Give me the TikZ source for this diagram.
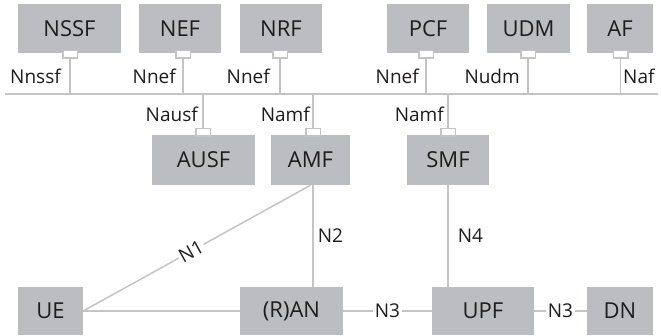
\documentclass[tikz,border=0pt]{standalone}
\usepackage{fontspec}
\setmainfont{Open Sans}
\usepackage{tikz}
\usetikzlibrary{positioning, calc}
\definecolor{boxgray}{HTML}{BCBDC1}
\definecolor{linegray}{HTML}{C4C4C4}
\definecolor{textdark}{HTML}{1E1C1D}

\begin{document}
\begin{tikzpicture}[x=1pt, y=-1pt,
        nf/.style={rectangle, fill=boxgray, text=textdark, font=\fontsize{22}{24}\selectfont, inner sep=0pt},
        port/.style={rectangle, draw=linegray, fill=white, line width=1.5pt, minimum width=14.5pt, minimum height=7.5pt, inner sep=0pt},
        lnk/.style={draw=linegray, line width=1.5pt},
        iface/.style={text=textdark, font=\fontsize{19}{21}\selectfont, inner sep=0pt, fill=white}]
    \useasboundingbox (0,0) rectangle (661,336);
    % upper row
    \node[nf, minimum width=103pt, minimum height=49pt] (nssf) at (69.5, 28.5) {NSSF};
    \node[nf, minimum width=82pt, minimum height=49pt] (nef) at (180, 28.5) {NEF};
    \node[nf, minimum width=82pt, minimum height=49pt] (nrf) at (281, 28.5) {NRF};
    \node[nf, minimum width=82pt, minimum height=49pt] (pcf) at (428, 28.5) {PCF};
    \node[nf, minimum width=83pt, minimum height=49pt] (udm) at (528.5, 28.5) {UDM};
    \node[nf, minimum width=66pt, minimum height=49pt] (af) at (620, 28.5) {AF};
    % middle row
    \node[nf, minimum width=103pt, minimum height=50pt] (ausf) at (203.5, 160) {AUSF};
    \node[nf, minimum width=79pt, minimum height=50pt] (amf) at (310.5, 160) {AMF};
    \node[nf, minimum width=82pt, minimum height=50pt] (smf) at (448, 160) {SMF};
    % lower row
    \node[nf, minimum width=65pt, minimum height=48pt] (ue) at (50.5, 311) {UE};
    \node[nf, minimum width=103pt, minimum height=48pt] (ran) at (291.5, 311) {(R)AN};
    \node[nf, minimum width=102pt, minimum height=48pt] (upf) at (483, 311) {UPF};
    \node[nf, minimum width=66pt, minimum height=48pt] (dn) at (620, 311) {DN};
    % service bus
    \coordinate (busw) at (5, 94);
    \coordinate (buse) at (658, 94);
    \draw[lnk] (busw) -- (buse);
    % ports
    \node[port] (pnssf) at (70, 54.5) {};
    \node[port] (pnef) at (183, 54.5) {};
    \node[port] (pnrf) at (280, 54.5) {};
    \node[port] (ppcf) at (426, 54.5) {};
    \node[port] (pudm) at (528, 54.5) {};
    \node[port] (paf) at (620.5, 54.5) {};
    \node[port] (pausf) at (203, 132.5) {};
    \node[port] (pamf) at (313, 132.5) {};
    \node[port] (psmf) at (448, 132.5) {};
    \foreach \p in {pnssf, pnef, pnrf, ppcf, pudm, paf}
        \draw[lnk] (\p.south) -- (\p.south |- busw);
    \foreach \p in {pausf, pamf, psmf}
        \draw[lnk] (\p.north) -- (\p.north |- busw);
    % service interfaces
    \node[iface, anchor=base east] (lnssf) at (61, 84) {Nnssf};
    \node[iface, anchor=base east] (lnef) at (176, 84) {Nnef};
    \node[iface, anchor=base east] (lnrf) at (270, 84) {Nnef};
    \node[iface, anchor=base east] (lpcf) at (419, 84) {Nnef};
    \node[iface, anchor=base east] (ludm) at (520, 84) {Nudm};
    \node[iface, anchor=base west] (laf) at (623, 84) {Naf};
    \node[iface, anchor=base east] (lausf) at (198, 122) {Nausf};
    \node[iface, anchor=base east] (lamf) at (310, 122) {Namf};
    \node[iface, anchor=base east] (lsmf) at (444, 122) {Namf};
    % reference points
    \draw[lnk] (ue.east) -- (ran.west);
    \draw[lnk] (ue.east) -- node[iface, sloped, pos=0.475, inner sep=1.5pt] {N1} (amf.south);
    \draw[lnk] (pamf |- amf.south) -- node[iface, right=4pt, fill=none] {N2} (pamf |- ran.north);
    \draw[lnk] (smf.south) -- node[iface, right=9pt, fill=none] {N4} (smf.south |- upf.north);
    \draw[lnk] (ran.east) -- node[iface, inner sep=1.5pt] {N3} (upf.west);
    \draw[lnk] (upf.east) -- node[iface, inner sep=1.5pt] {N3} (dn.west);
\end{tikzpicture}
\end{document}
